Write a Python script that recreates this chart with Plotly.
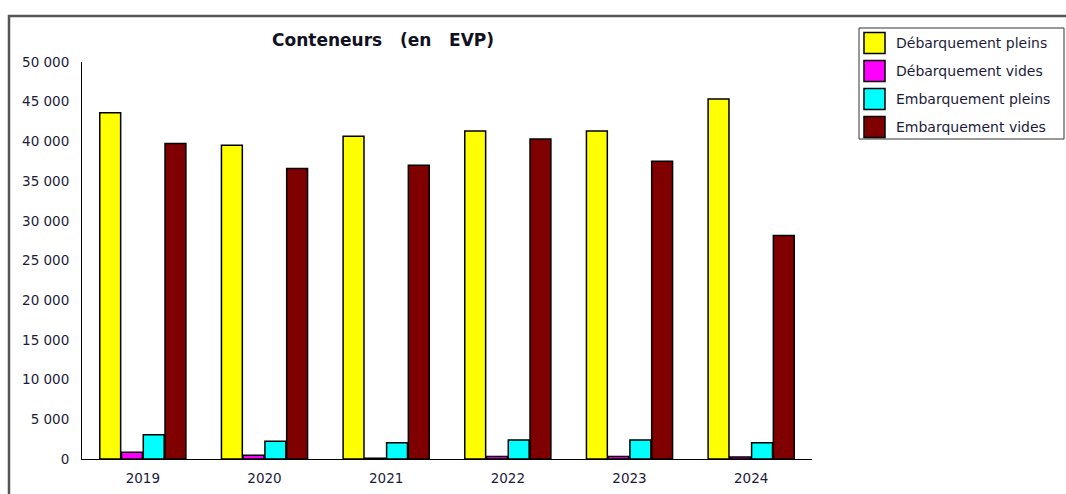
import plotly.graph_objects as go

# data
annees = ["2019", "2020", "2021", "2022", "2023", "2024"]
series = ["Débarquement pleins", "Débarquement vides", "Embarquement pleins", "Embarquement vides"]
deb_pleins = [43600, 39500, 40650, 41300, 41300, 45350]
deb_vides = [850, 480, 100, 300, 300, 250]
emb_pleins = [3050, 2250, 2050, 2400, 2400, 2050]
emb_vides = [39750, 36600, 37000, 40300, 37500, 28150]
couleurs = ["#ffff00", "#ff00ff", "#00ffff", "#800000"]

valeurs = [deb_pleins, deb_vides, emb_pleins, emb_vides]

W, H = 1066, 494
L, R, T, B = 82, 812, 62, 459  # plot area in pixels


def px_x(p):
    return (p - L) / (R - L)


def px_y(p):
    return (B - p) / (B - T)


fig = go.Figure()
for nom, vals, col in zip(series, valeurs, couleurs):
    fig.add_trace(go.Bar(
        x=annees, y=vals, name=nom,
        marker=dict(color=col, line=dict(color="#000000", width=1.5)),
        showlegend=False,
    ))

# outer frame
fig.add_shape(type="rect", xref="paper", yref="paper",
              x0=px_x(9), x1=px_x(1090), y0=px_y(530), y1=px_y(16),
              line=dict(color="#555555", width=2.5), layer="below")

# manual legend (large square swatches like the original)
fig.add_shape(type="rect", xref="paper", yref="paper",
              x0=px_x(859), x1=px_x(1064), y0=px_y(139), y1=px_y(28),
              line=dict(color="#333333", width=1), fillcolor="white")
for i, (nom, col) in enumerate(zip(series, couleurs)):
    yc = 43 + i * 28
    fig.add_shape(type="rect", xref="paper", yref="paper",
                  x0=px_x(864), x1=px_x(885), y0=px_y(yc + 10.5), y1=px_y(yc - 10.5),
                  line=dict(color="#000000", width=1.5), fillcolor=col)
    fig.add_annotation(xref="paper", yref="paper", x=px_x(894), y=px_y(yc),
                       text=nom, showarrow=False, xanchor="left", yanchor="middle",
                       font=dict(size=14, color="#1c1c3a"))

# title
fig.add_annotation(xref="paper", yref="paper", x=px_x(383), y=px_y(40),
                   text="<b>Conteneurs\u00a0\u00a0\u00a0(en\u00a0\u00a0\u00a0EVP)</b>",
                   showarrow=False, xanchor="center", yanchor="middle",
                   font=dict(size=17, color="#111122"))

fig.update_layout(
    width=W, height=H,
    margin=dict(l=L, r=W - R, t=T, b=H - B),
    paper_bgcolor="white", plot_bgcolor="white",
    font=dict(family="DejaVu Sans, Verdana, sans-serif", size=13.5, color="#1c1c3a"),
    barmode="group", bargap=0.285, bargroupgap=0.04,
    separators=", ",
    showlegend=False,
)
fig.update_yaxes(range=[0, 50000], dtick=5000, tickformat=",d",
                 showgrid=False, zeroline=False, showline=True,
                 linecolor="#000000", linewidth=1, ticks="", automargin=False,
                 ticklabelstandoff=9, tickfont=dict(size=13.5))
fig.update_xaxes(showgrid=False, showline=True, linecolor="#000000", linewidth=1,
                 ticks="", automargin=False, ticklabelstandoff=7,
                 tickfont=dict(size=13.5))

fig.write_html("out.html", config={"displayModeBar": False},
               post_script="document.body.style.margin='0';document.body.style.overflow='hidden';")
